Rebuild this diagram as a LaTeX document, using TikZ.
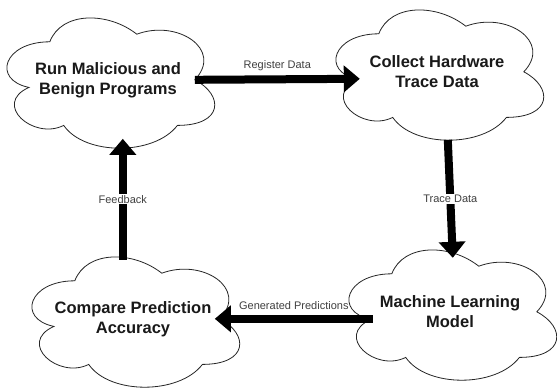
\documentclass[tikz,border=0pt]{standalone}
\usepackage{fontspec}
\setmainfont{Liberation Sans}
\usetikzlibrary{arrows.meta,calc}
\tikzset{
  cloudnode/.style={minimum width=232pt, minimum height=152pt, inner sep=0pt, align=center,
    font=\fontsize{16.5}{20}\selectfont\bfseries, text=black!90},
  cloudline/.style={draw=black!85, line width=0.8pt},
  fatarrow/.style={line width=8pt, draw=black, -{Triangle[length=16pt,width=26pt]}},
  lbl/.style={font=\fontsize{11}{13}\selectfont, text=black!75, inner sep=1pt},
  lblbg/.style={lbl, fill=white},
}
\newcommand\drawmycloud[1]{%
  \begin{scope}[shift={(#1.north west)}, x=232pt, y=-152pt]
    \draw[cloudline] (0.25,0.25) .. controls (0.05,0.25) and (0,0.5) .. (0.16,0.55)
      .. controls (0,0.66) and (0.18,0.9) .. (0.31,0.8)
      .. controls (0.4,1) and (0.7,1) .. (0.8,0.8)
      .. controls (1,0.8) and (1,0.6) .. (0.875,0.5)
      .. controls (1,0.3) and (0.8,0.1) .. (0.625,0.2)
      .. controls (0.5,0.05) and (0.3,0.05) .. (0.25,0.25) -- cycle;
  \end{scope}}
\begin{document}
\begin{tikzpicture}[x=1pt, y=-1pt]
  \useasboundingbox[fill=white] (0,0) rectangle (557,391);
  \node[cloudnode] (c1) at (108,80) {Run Malicious and\\Benign Programs};
  \node[cloudnode] (c2) at (437,72) {Collect Hardware\\Trace Data};
  \node[cloudnode] (c3) at (133,319) {Compare Prediction\\Accuracy};
  \node[cloudnode] (c4) at (450,312) {Machine Learning\\Model};
  \drawmycloud{c1}
  \drawmycloud{c2}
  \drawmycloud{c3}
  \drawmycloud{c4}
  % connection points
  \coordinate (c1r) at ($(c1.north west)+(203,76)$);
  \coordinate (c2l) at ($(c2.north west)+(39,83)$);
  \coordinate (c2b) at ($(c2.north west)+(127,144)$);
  \coordinate (c4t) at ($(c4.north west)+(119,22)$);
  \coordinate (c4l) at ($(c4.north west)+(39,83)$);
  \coordinate (c3r) at ($(c3.north west)+(198,76)$);
  \coordinate (c3t) at ($(c3.north west)+(106,17)$);
  \coordinate (c1b) at ($(c1.north west)+(131,135)$);
  \draw[fatarrow] (c1r) -- (c2l) node[lbl, midway, above=4pt] {Register Data};
  \draw[fatarrow] (c2b) -- (c4t) node[lblbg, midway] {Trace Data};
  \draw[fatarrow] (c4l) -- (c3r) node[lbl, midway, above=4pt] {Generated Predictions};
  \draw[fatarrow] (c3t) -- (c1b) node[lblbg, midway] {Feedback};
\end{tikzpicture}
\end{document}
